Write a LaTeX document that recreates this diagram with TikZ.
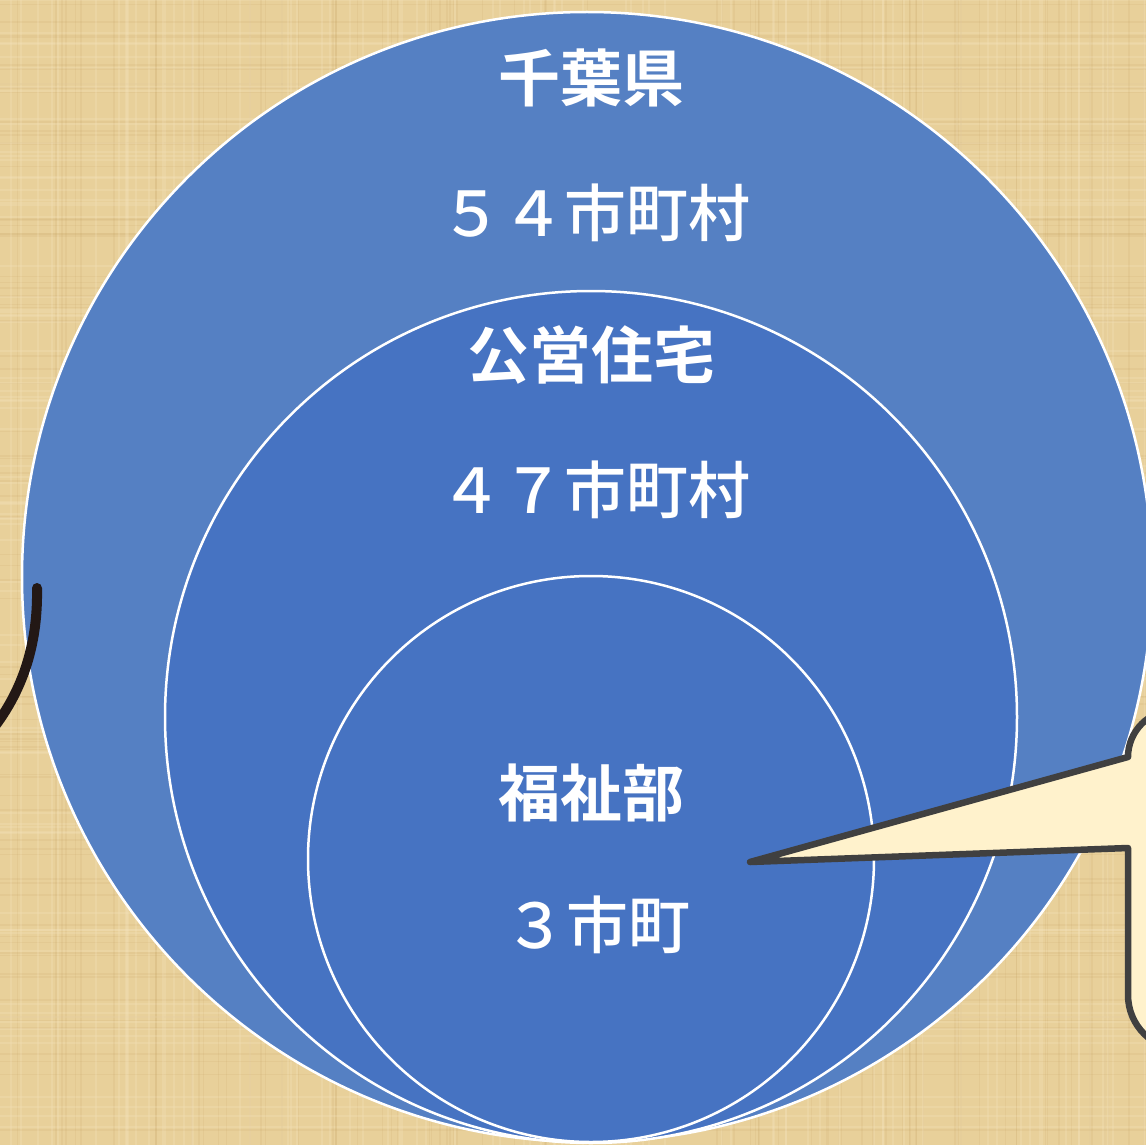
\documentclass[tikz,border=0pt]{standalone}
\usepackage{fontspec}
\newfontfamily\jp{Noto Sans CJK JP}[UprightFont=* Medium, BoldFont=* Bold]
\definecolor{paper}{RGB}{232,208,154}
\definecolor{paperdark}{RGB}{180,140,70}
\definecolor{paperlight}{RGB}{245,228,190}
\definecolor{outerblue}{RGB}{85,128,195}
\definecolor{innerblue}{RGB}{70,115,194}
\definecolor{calloutfill}{RGB}{255,242,204}
\definecolor{calloutline}{RGB}{64,64,64}
\definecolor{curveline}{RGB}{35,24,21}
\tikzset{
  ring/.style={circle, draw=white, line width=2.5pt, inner sep=0pt},
  label jp/.style={text=white, anchor=base, inner sep=0pt, font=\jp\fontsize{62}{62}\selectfont},
  title jp/.style={label jp, font=\jp\bfseries\fontsize{62}{62}\selectfont},
  bgline/.style={paperdark, opacity=0.09, line width=1.5pt},
  bglight/.style={paperlight, opacity=0.25, line width=2pt},
  callout/.style={fill=calloutfill, draw=calloutline, line width=6.5pt, line join=round},
}
\begin{document}
\begin{tikzpicture}[x=1pt,y=-1pt]
\useasboundingbox (0,0) rectangle (1146,1145);
\clip (0,0) rectangle (1146,1145);
% background
\fill[paper] (0,0) rectangle (1146,1145);
\pgfmathsetseed{7}
\foreach \i in {1,...,80}{
  \pgfmathsetmacro\yy{rnd*1145}
  \draw[bgline] (0,\yy) -- (1146,\yy);
  \pgfmathsetmacro\xx{rnd*1146}
  \draw[bgline] (\xx,0) -- (\xx,1145);
  \pgfmathsetmacro\yl{rnd*1145}
  \draw[bglight] (0,\yl) -- (1146,\yl);
  \pgfmathsetmacro\xl{rnd*1146}
  \draw[bglight] (\xl,0) -- (\xl,1145);
}
% circles
\node[ring, fill=outerblue, minimum size=1130pt] (outer) at (587,577) {};
\node[ring, fill=innerblue, minimum size=852pt] (middle) at (591,717) {};
\node[ring, fill=innerblue, minimum size=566pt] (inner) at (591,859) {};
% labels
\node[title jp] (t1) at (591,102) {千葉県};
\node[label jp] (t2) at (595,236) {５４市町村};
\node[title jp] (t3) at (591,378) {公営住宅};
\node[label jp] (t4) at (595,513) {４７市町村};
\node[title jp] (t5) at (591,816) {福祉部};
\node[label jp] (t6) at (597,948) {３市町};
% left curve (part of an off-picture shape)
\draw[curveline, line width=10pt, line cap=round] (37,588) .. controls (38,640) and (25,688) .. (-8,730);
% callout
\coordinate (tip) at (750,862);
\draw[callout] (1128,848) -- (1128,995) arc[start angle=180, end angle=90, radius=55]
  -- (1260,1050) -- (1260,710) -- (1175,710)
  arc[start angle=270, end angle=180, radius=47] -- (tip) -- cycle;
\end{tikzpicture}
\end{document}
